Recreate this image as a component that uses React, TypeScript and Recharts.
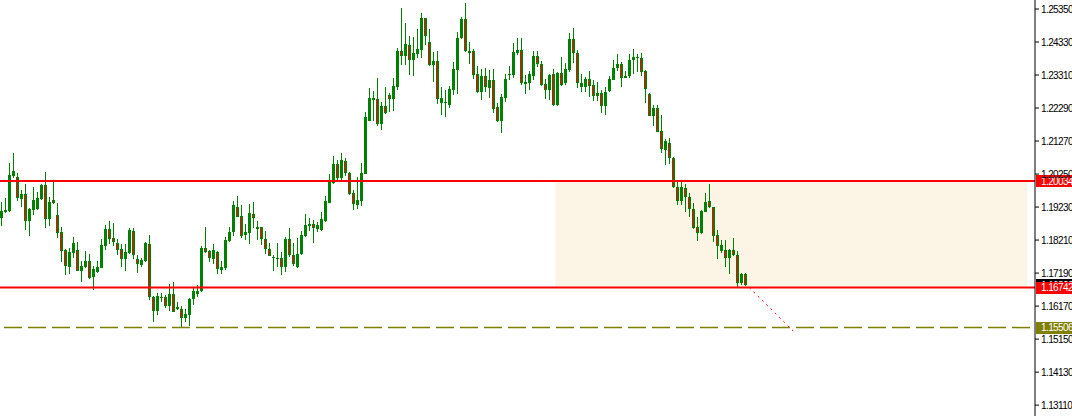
import {
  ComposedChart,
  Bar,
  XAxis,
  YAxis,
  ReferenceLine,
  ReferenceArea,
} from "recharts";

// daily OHLC, oldest first
const opens = [
  1.1890, 1.1909, 1.1910, 1.2019, 1.2015, 1.1948, 1.1962, 1.1881, 1.1914, 1.1917,
  1.1948, 1.1991, 1.1887, 1.1944, 1.1899, 1.1845, 1.1790, 1.1738, 1.1782, 1.1789,
  1.1725, 1.1738, 1.1756, 1.1708, 1.1722, 1.1736, 1.1804, 1.1855, 1.1827, 1.1812,
  1.1793, 1.1764, 1.1782, 1.1849, 1.1762, 1.1745, 1.1757, 1.1808, 1.1646, 1.1603,
  1.1646, 1.1644, 1.1618, 1.1654, 1.1607, 1.1608, 1.1581, 1.1591, 1.1638, 1.1655,
  1.1663, 1.1798, 1.1788, 1.1762, 1.1783, 1.1728, 1.1735, 1.1819, 1.1847, 1.1922,
  1.1895, 1.1838, 1.1842, 1.1902, 1.1860, 1.1860, 1.1823, 1.1793, 1.1770, 1.1764,
  1.1765, 1.1737, 1.1824, 1.1774, 1.1738, 1.1778, 1.1835, 1.1865, 1.1870, 1.1854,
  1.1852, 1.1880, 1.1937, 1.1996, 1.2055, 1.2012, 1.2065, 1.2027, 1.1967, 1.1929,
  1.1943, 1.2025, 1.2190, 1.2259, 1.2256, 1.2180, 1.2235, 1.2269, 1.2257, 1.2293,
  1.2405, 1.2391, 1.2424, 1.2377, 1.2396, 1.2408, 1.2506, 1.2434, 1.2362, 1.2374,
  1.2243, 1.2247, 1.2238, 1.2285, 1.2347, 1.2444, 1.2504, 1.2406, 1.2405, 1.2334,
  1.2279, 1.2328, 1.2290, 1.2316, 1.2231, 1.2190, 1.2261, 1.2331, 1.2331, 1.2400,
  1.2408, 1.2302, 1.2307, 1.2328, 1.2390, 1.2364, 1.2302, 1.2285, 1.2334, 1.2238,
  1.2338, 1.2305, 1.2347, 1.2442, 1.2400, 1.2295, 1.2295, 1.2319, 1.2300, 1.2267,
  1.2274, 1.2236, 1.2282, 1.2316, 1.2352, 1.2365, 1.2323, 1.2328, 1.2377, 1.2387,
  1.2384, 1.2343, 1.2272, 1.2204, 1.2228, 1.2158, 1.2099, 1.2120, 1.2074, 1.1986,
  1.1943, 1.1981, 1.1955, 1.1916, 1.1860, 1.1842, 1.1909, 1.1942, 1.1922, 1.1837,
  1.1788, 1.1790, 1.1766, 1.1790, 1.1775, 1.1689, 1.1715,
];
const highs = [
  1.1940, 1.1952, 1.2059, 1.2090, 1.2027, 1.1976, 1.1994, 1.1921, 1.1985, 1.1970,
  1.1994, 1.2031, 1.1953, 1.2004, 1.1936, 1.1862, 1.1793, 1.1795, 1.1830, 1.1814,
  1.1757, 1.1787, 1.1778, 1.1742, 1.1756, 1.1823, 1.1868, 1.1880, 1.1874, 1.1824,
  1.1808, 1.1808, 1.1859, 1.1859, 1.1776, 1.1765, 1.1815, 1.1837, 1.1648, 1.1656,
  1.1658, 1.1651, 1.1684, 1.1691, 1.1630, 1.1617, 1.1608, 1.1641, 1.1676, 1.1682,
  1.1802, 1.1862, 1.1790, 1.1809, 1.1787, 1.1755, 1.1831, 1.1860, 1.1943, 1.1957,
  1.1930, 1.1870, 1.1932, 1.1939, 1.1881, 1.1862, 1.1850, 1.1811, 1.1775, 1.1811,
  1.1785, 1.1831, 1.1859, 1.1811, 1.1826, 1.1849, 1.1901, 1.1888, 1.1883, 1.1876,
  1.1909, 1.1957, 1.2024, 1.2081, 1.2068, 1.2089, 1.2074, 1.2032, 1.1975, 1.2015,
  1.2058, 1.2216, 1.2292, 1.2282, 1.2321, 1.2249, 1.2293, 1.2274, 1.2321, 1.2416,
  1.2537, 1.2491, 1.2453, 1.2450, 1.2473, 1.2522, 1.2508, 1.2473, 1.2403, 1.2405,
  1.2293, 1.2285, 1.2297, 1.2372, 1.2463, 1.2511, 1.2554, 1.2434, 1.2410, 1.2359,
  1.2349, 1.2352, 1.2347, 1.2349, 1.2244, 1.2272, 1.2334, 1.2359, 1.2431, 1.2444,
  1.2444, 1.2331, 1.2343, 1.2405, 1.2405, 1.2374, 1.2318, 1.2334, 1.2349, 1.2341,
  1.2388, 1.2369, 1.2462, 1.2475, 1.2408, 1.2334, 1.2326, 1.2343, 1.2316, 1.2310,
  1.2285, 1.2295, 1.2328, 1.2377, 1.2396, 1.2372, 1.2344, 1.2396, 1.2410, 1.2396,
  1.2398, 1.2347, 1.2274, 1.2238, 1.2238, 1.2207, 1.2132, 1.2135, 1.2079, 1.2007,
  1.2007, 1.1993, 1.1967, 1.1935, 1.1891, 1.1914, 1.1966, 1.1994, 1.1924, 1.1852,
  1.1821, 1.1821, 1.1793, 1.1826, 1.1787, 1.1720, 1.1718,
];
const lows = [
  1.1865, 1.1907, 1.1908, 1.2012, 1.1942, 1.1924, 1.1852, 1.1835, 1.1899, 1.1914,
  1.1945, 1.1859, 1.1862, 1.1933, 1.1828, 1.1754, 1.1713, 1.1716, 1.1765, 1.1724,
  1.1692, 1.1734, 1.1701, 1.1669, 1.1720, 1.1734, 1.1791, 1.1808, 1.1802, 1.1775,
  1.1736, 1.1726, 1.1780, 1.1762, 1.1720, 1.1736, 1.1752, 1.1636, 1.1569, 1.1589,
  1.1630, 1.1611, 1.1602, 1.1598, 1.1605, 1.1548, 1.1569, 1.1556, 1.1620, 1.1644,
  1.1661, 1.1782, 1.1753, 1.1747, 1.1716, 1.1716, 1.1728, 1.1814, 1.1835, 1.1891,
  1.1827, 1.1821, 1.1808, 1.1860, 1.1823, 1.1806, 1.1778, 1.1770, 1.1726, 1.1736,
  1.1714, 1.1722, 1.1770, 1.1739, 1.1732, 1.1775, 1.1831, 1.1847, 1.1813, 1.1844,
  1.1849, 1.1878, 1.1934, 1.1994, 1.2000, 1.2007, 1.2017, 1.1960, 1.1912, 1.1917,
  1.1924, 1.2023, 1.2189, 1.2190, 1.2174, 1.2163, 1.2210, 1.2214, 1.2220, 1.2285,
  1.2360, 1.2362, 1.2331, 1.2331, 1.2383, 1.2383, 1.2424, 1.2360, 1.2310, 1.2240,
  1.2207, 1.2202, 1.2230, 1.2271, 1.2272, 1.2442, 1.2403, 1.2367, 1.2316, 1.2276,
  1.2254, 1.2279, 1.2262, 1.2213, 1.2184, 1.2151, 1.2249, 1.2316, 1.2324, 1.2393,
  1.2300, 1.2271, 1.2283, 1.2316, 1.2357, 1.2297, 1.2257, 1.2254, 1.2235, 1.2237,
  1.2297, 1.2300, 1.2343, 1.2367, 1.2290, 1.2279, 1.2281, 1.2264, 1.2252, 1.2252,
  1.2214, 1.2210, 1.2280, 1.2314, 1.2344, 1.2295, 1.2321, 1.2321, 1.2334, 1.2339,
  1.2328, 1.2245, 1.2202, 1.2174, 1.2154, 1.2091, 1.2051, 1.2056, 1.1983, 1.1929,
  1.1929, 1.1906, 1.1893, 1.1854, 1.1816, 1.1839, 1.1906, 1.1919, 1.1816, 1.1762,
  1.1782, 1.1739, 1.1715, 1.1770, 1.1672, 1.1682, 1.1679,
];
const closes = [
  1.1911, 1.1915, 1.2022, 1.2034, 1.1950, 1.1962, 1.1881, 1.1917, 1.1945, 1.1950,
  1.1991, 1.1887, 1.1939, 1.1936, 1.1844, 1.1788, 1.1742, 1.1784, 1.1811, 1.1726,
  1.1741, 1.1756, 1.1705, 1.1732, 1.1738, 1.1806, 1.1855, 1.1824, 1.1816, 1.1791,
  1.1764, 1.1785, 1.1852, 1.1775, 1.1746, 1.1759, 1.1812, 1.1646, 1.1603, 1.1648,
  1.1643, 1.1618, 1.1654, 1.1600, 1.1613, 1.1581, 1.1593, 1.1639, 1.1664, 1.1664,
  1.1797, 1.1784, 1.1767, 1.1790, 1.1731, 1.1738, 1.1821, 1.1847, 1.1929, 1.1893,
  1.1835, 1.1847, 1.1904, 1.1890, 1.1855, 1.1823, 1.1793, 1.1772, 1.1768, 1.1767,
  1.1739, 1.1824, 1.1774, 1.1747, 1.1778, 1.1837, 1.1868, 1.1870, 1.1857, 1.1868,
  1.1885, 1.1942, 1.2004, 1.2055, 1.2012, 1.2068, 1.2027, 1.1963, 1.1932, 1.1945,
  1.2029, 1.2200, 1.2259, 1.2254, 1.2180, 1.2235, 1.2213, 1.2257, 1.2297, 1.2405,
  1.2391, 1.2426, 1.2377, 1.2398, 1.2411, 1.2508, 1.2453, 1.2362, 1.2374, 1.2257,
  1.2259, 1.2243, 1.2287, 1.2350, 1.2444, 1.2504, 1.2406, 1.2400, 1.2331, 1.2279,
  1.2328, 1.2293, 1.2316, 1.2227, 1.2190, 1.2262, 1.2319, 1.2334, 1.2401, 1.2408,
  1.2307, 1.2308, 1.2334, 1.2390, 1.2364, 1.2300, 1.2285, 1.2331, 1.2238, 1.2338,
  1.2300, 1.2350, 1.2442, 1.2398, 1.2305, 1.2305, 1.2319, 1.2298, 1.2267, 1.2274,
  1.2236, 1.2278, 1.2318, 1.2352, 1.2365, 1.2323, 1.2328, 1.2377, 1.2387, 1.2384,
  1.2341, 1.2287, 1.2205, 1.2228, 1.2156, 1.2101, 1.2127, 1.2074, 1.1986, 1.1943,
  1.1986, 1.1955, 1.1916, 1.1857, 1.1844, 1.1911, 1.1940, 1.1922, 1.1835, 1.1804,
  1.1806, 1.1766, 1.1790, 1.1775, 1.1689, 1.1715, 1.1682,
];

// price scale labels on the right
const priceTicks = [
  1.2535, 1.2433, 1.2331, 1.2229, 1.2127, 1.2025, 1.1923, 1.1821, 1.1719,
  1.1617, 1.1515, 1.1413, 1.1311,
];

const resistance = 1.20034;
const support = 1.16742;
const target = 1.15506;
// projection from the support break down to the target
const projection = [
  { x: 187, y: support },
  { x: 198, y: 1.154 },
];
// zone box start/end bars
const zoneFrom = 139;
const zoneTo = 256;

const SLOTS = 259; // bars on screen incl. empty space on the right
const GREEN = "#008000";
const RED = "#ff0000";
const OLIVE = "#808000";
const FONT = "Liberation Sans, Arial, sans-serif";

const data = Array.from({ length: SLOTS }, (_, i) =>
  i < opens.length
    ? { i, o: opens[i], h: highs[i], l: lows[i], c: closes[i] }
    : { i }
);
const bid = closes[closes.length - 1];

function Candle(props: any) {
  const { x, y, width, height, payload } = props;
  if (payload == null || payload.h == null) return null;
  const { o, h, l, c } = payload;
  const top0 = height < 0 ? y + height : y;
  const span = Math.abs(height);
  const ppu = span / (h - l || 1);
  const cx = Math.floor(x + width / 2);
  const bTop = Math.round(top0 + (h - Math.max(o, c)) * ppu);
  const bBot = Math.round(top0 + (h - Math.min(o, c)) * ppu);
  const bh = Math.max(bBot - bTop, 1);
  const bear = c < o;
  return (
    <g shapeRendering="crispEdges">
      <rect x={cx} y={Math.round(top0)} width={1} height={Math.max(Math.round(span), 1)} fill={GREEN} />
      <rect x={cx - 1} y={bTop} width={3} height={bh} fill={GREEN} />
      {bear && bh > 2 && (
        <rect x={cx} y={bTop + 1} width={1} height={bh - 2} fill={RED} />
      )}
    </g>
  );
}

function tag(fill: string, text: string, color = "#fff") {
  return (p: any) => {
    const vb = p.viewBox || {};
    const right = (vb.x || 0) + (vb.width || 0);
    const ly = vb.y || 0;
    return (
      <g>
        <rect x={right + 1} y={Math.round(ly) - 6} width={40} height={12} fill={fill} shapeRendering="crispEdges" />
        <text
          x={right + 6}
          y={ly + 3.5}
          fill={color}
          fontSize={10}
          letterSpacing={-0.6}
          fontFamily={FONT}
        >
          {text}
        </text>
      </g>
    );
  };
}

export default function App() {
  return (
    <div style={{ position: "absolute", left: 0, top: 0, background: "#fff" }}>
      <ComposedChart
        width={1072}
        height={416}
        data={data}
        margin={{ top: 0, right: 0, bottom: 0, left: 0 }}
      >
        <XAxis dataKey="i" type="category" hide />
        <YAxis
          orientation="right"
          width={37}
          type="number"
          domain={[1.12774, 1.25628]}
          allowDataOverflow
          ticks={priceTicks}
          interval={0}
          tickSize={4}
          tickMargin={2}
          tickFormatter={(v: number) => v.toFixed(5)}
          axisLine={{ stroke: "#000" }}
          tickLine={{ stroke: "#000" }}
          tick={{ fill: "#000", fontSize: 10, fontFamily: FONT, letterSpacing: -0.6 }}
        />
        <ReferenceArea
          x1={zoneFrom}
          x2={zoneTo}
          y1={support}
          y2={resistance}
          fill="#fcf4e5"
          fillOpacity={1}
          stroke="none"
        />
        <Bar
          dataKey={(d: any) => (d.h == null ? null : [d.l, d.h])}
          shape={<Candle />}
          isAnimationActive={false}
        />
        <ReferenceLine
          y={resistance}
          stroke={RED}
          strokeWidth={2}
          label={tag(RED, resistance.toFixed(5))}
        />
        <ReferenceLine
          y={bid}
          stroke="none"
          label={tag("#000", bid.toFixed(5))}
        />
        <ReferenceLine
          y={support}
          stroke={RED}
          strokeWidth={2}
          label={tag(RED, support.toFixed(5))}
        />
        <ReferenceLine
          y={target}
          stroke={OLIVE}
          strokeWidth={1.5}
          strokeDasharray="18 6"
          strokeDashoffset={-5}
          label={tag(OLIVE, target.toFixed(5))}
        />
        <ReferenceLine
          segment={projection}
          stroke={RED}
          strokeWidth={1}
          strokeDasharray="2 4"
        />
      </ComposedChart>
    </div>
  );
}
